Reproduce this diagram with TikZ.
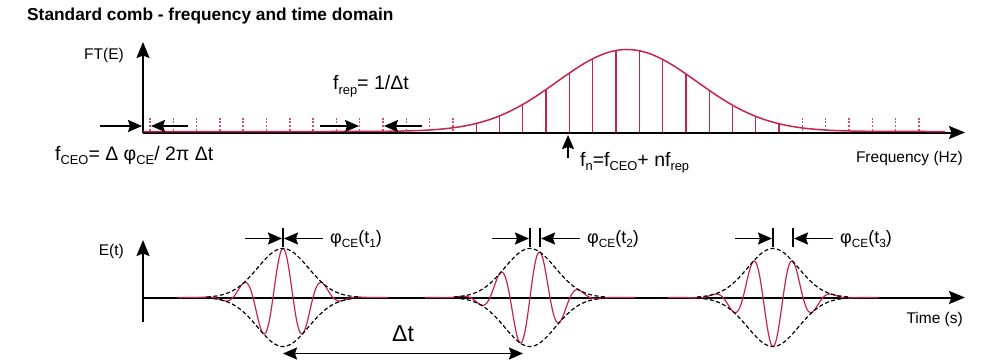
\documentclass[tikz,border=0pt]{standalone}
\usepackage{fontspec}
\usepackage{graphicx}
\setmainfont{Liberation Sans}
\usetikzlibrary{arrows.meta}
\definecolor{comb}{HTML}{C8234D}
\definecolor{combpale}{HTML}{D24D72}
\newcommand{\lo}[1]{\raisebox{-.45ex}{\scalebox{.66}{#1}}}

\begin{document}
\begin{tikzpicture}[x=1pt,y=-1pt,
 axis/.style={line width=2pt,-{Stealth[length=16pt,width=13pt,inset=2.5pt]}},
 marker/.style={line width=1.8pt,-{Stealth[length=14pt,width=12pt,inset=2pt]}},
 tooth/.style={comb,line width=1.3pt},
 ghost/.style={combpale,line width=1.5pt,dash pattern=on 2pt off 1.8pt},
 envelope/.style={line width=1.2pt,dash pattern=on 4pt off 2.5pt},
 lbl/.style={inner sep=0pt,font=\fontsize{15.5}{18}\selectfont},
 eqn/.style={inner sep=0pt,font=\fontsize{19.5}{22}\selectfont}]
\useasboundingbox (0,0) rectangle (983,362);
\node[inner sep=0pt,anchor=base west,font=\fontsize{17.3}{20}\selectfont\bfseries] (title) at (27,20.5) {Standard comb - frequency and time domain};
% frequency domain
\coordinate (fO) at (143,132.5);
\coordinate (fY) at (143,42);
\coordinate (fX) at (965,132.5);
\draw[axis] (fO) -- (fY);
\draw[axis] (fO) -- (fX);
\foreach \n in {0,...,33}{
 \pgfmathsetmacro\tx{150+23.3*\n}
 \pgfmathsetmacro\th{82*exp(-((\tx-627)/70)^2/2)}
 \ifnum\n<14 \draw[ghost] (\tx,131) -- (\tx,116);
 \else\ifnum\n>27 \draw[ghost] (\tx,131) -- (\tx,116);
 \else \draw[tooth] (\tx,132) -- (\tx,132-\th);
 \fi\fi}
\draw[comb,line width=1.5pt] plot[domain=143:945,samples=220] (\x,{131.5-82*exp(-((\x-627)/70)^2/2)});
\node[lbl,anchor=base east] (ft) at (124,59) {FT(E)};
\node[lbl,anchor=base east] (freq) at (963,162) {Frequency (Hz)};
\node[eqn,anchor=base west] (frep) at (333,89.5) {f\lo{rep}= 1/Δt};
\node[eqn,anchor=base west] (fceo) at (55,160) {f\lo{CEO}= Δ φ\lo{CE}/ 2π Δt};
\node[eqn,anchor=base west] (fn) at (580,166) {f\lo{n}=f\lo{CEO}+ nf\lo{rep}};
\coordinate (a1) at (100,126); \coordinate (b1) at (142,126);
\coordinate (a2) at (188,126); \coordinate (b2) at (151,126);
\coordinate (a3) at (320,126); \coordinate (b3) at (359,126);
\coordinate (a4) at (422,126); \coordinate (b4) at (384,126);
\foreach \i in {1,...,4} \draw[marker] (a\i) -- (b\i);
\coordinate (up0) at (568,158); \coordinate (up1) at (568,135);
\draw[marker] (up0) -- (up1);
% time domain
\coordinate (tO) at (143,297.5);
\coordinate (tB) at (143,322);
\coordinate (tY) at (143,240);
\coordinate (tX) at (965,297.5);
\draw[axis] (tB) -- (tY);
\draw[axis] (tO) -- (tX);
\foreach \c/\s/\k in {283/0/1,530/10/2,773/20/3}{
 \pgfmathsetmacro\xa{\c-105}
 \pgfmathsetmacro\xb{\c+105}
 \pgfmathsetmacro\ea{\c-76}
 \pgfmathsetmacro\eb{\c+76}
 \draw[comb,line width=1.2pt] plot[domain=\xa:\xb,samples=200] (\x,{297.5-49*exp(-((\x-\c)/35.8)^2)*cos(9*(\x-\c-\s))});
 \draw[envelope] plot[domain=\ea:\eb,samples=90] (\x,{297.5-49*exp(-((\x-\c)/35.8)^2)});
 \draw[envelope] plot[domain=\ea:\eb,samples=90] (\x,{297.5+49*exp(-((\x-\c)/35.8)^2)});
 \draw[line width=1.4pt] (\c,228) -- (\c,247);
 \draw[line width=1.4pt] (\c+\s,228) -- (\c+\s,247);
 \coordinate (p\k l) at (\c-38,238.5); \coordinate (p\k m) at (\c-1,238.5);
 \coordinate (p\k r) at (\c+\s+40,238.5); \coordinate (p\k n) at (\c+\s+1,238.5);
 \draw[marker] (p\k l) -- (p\k m);
 \draw[marker] (p\k r) -- (p\k n);
 \node[eqn,anchor=base west,font=\fontsize{18}{21}\selectfont] (phi\k) at (\c+\s+47,243) {φ\lo{CE}(t\lo{\k})};
}
\node[lbl,anchor=base east] (et) at (124,255) {E(t)};
\node[lbl,anchor=base east] (time) at (963,323) {Time (s)};
\coordinate (dt0) at (283,353.5); \coordinate (dt1) at (523,353.5);
\draw[line width=1.8pt,{Stealth[length=14pt,width=12pt,inset=2pt]}-{Stealth[length=14pt,width=12pt,inset=2pt]}] (dt0) -- (dt1);
\node[inner sep=0pt,anchor=base west,font=\fontsize{23}{26}\selectfont] (dt) at (392,341.5) {Δt};
\end{tikzpicture}
\end{document}
